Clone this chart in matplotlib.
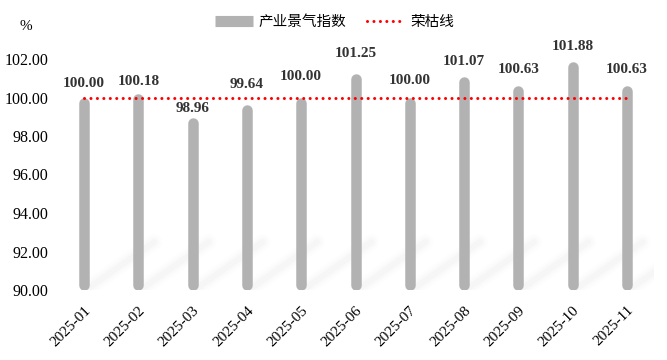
import matplotlib
matplotlib.use("Agg")
import matplotlib.pyplot as plt
from matplotlib.lines import Line2D
import numpy as np

months = ["2025-01", "2025-02", "2025-03", "2025-04", "2025-05", "2025-06",
          "2025-07", "2025-08", "2025-09", "2025-10", "2025-11"]
index_values = [100.00, 100.18, 98.96, 99.64, 100.00, 101.25,
                100.00, 101.07, 100.63, 101.88, 100.63]
boom_line = 100.0
yticks = [90, 92, 94, 96, 98, 100, 102]

# visual gap (px) between bar top and its value label, as in the original
label_gap_px = [10.5, 9, 6, 16, 17.5, 16, 13.5, 12, 12, 11, 12]

W, H = 667, 360
fig = plt.figure(figsize=(W / 100, H / 100), dpi=100)
ax = fig.add_axes([57 / W, 1 - 290 / H, (654 - 57) / W, (290 - 59) / H])
x = np.arange(len(months))
ax.set_xlim(-0.5, len(months) - 0.5)
ax.set_ylim(90, 102)

serif = "Liberation Serif"
cjk = ["Noto Sans CJK SC", "DejaVu Sans"]
bar_color = "#b2b2b2"
bar_px = 10.5
lw_pt = bar_px * 72 / 100

# pixel -> data conversion for cap radius
fig.canvas.draw()
p0 = ax.transData.transform((0, 90))
p1 = ax.transData.transform((0, 102))
unit_px = (p1[1] - p0[1]) / 12
r = (bar_px / 2) / unit_px
xunit_px = ax.transData.transform((1, 90))[0] - p0[0]

# faint diagonal shadows
for xi in x:
    for lw, a in [(16, 0.018), (11, 0.025), (6, 0.035)]:
        sx0 = xi + 6 / xunit_px
        sy0 = 90 + 3 / unit_px
        sx1 = xi + 70 / xunit_px
        sy1 = 90 + 48 / unit_px
        ax.plot([sx0, sx1], [sy0, sy1], color="#9a9a9a", lw=lw * 0.72, alpha=a,
                solid_capstyle="round", zorder=1)

# bars as rounded thick lines
for xi, v, g in zip(x, index_values, label_gap_px):
    ax.add_line(Line2D([xi, xi], [90 + r, v - r], color=bar_color, lw=lw_pt,
                       solid_capstyle="round", zorder=2))
    ax.annotate(f"{v:.2f}", (xi, v), xytext=(0, g * 0.72), textcoords="offset points",
                ha="center", va="baseline", fontsize=11, fontweight="bold",
                family=serif, color="#333333", zorder=4)

# boom line
ax.plot([x[0], x[-1]], [boom_line, boom_line], color="#ff0000", lw=2.2,
        linestyle=(0, (0.01, 2.1)), dash_capstyle="round", zorder=3)

ax.set_xticks(x)
ax.set_xticklabels(months, rotation=45, ha="right", rotation_mode="anchor",
                   family=serif, fontsize=11)
ax.set_yticks(yticks)
ax.set_yticklabels([f"{t:.2f}" for t in yticks], family=serif, fontsize=11.5)
ax.tick_params(length=0, pad=6)
ax.tick_params(axis="x", pad=10)
for s in ax.spines.values():
    s.set_visible(False)

fig.text(20 / W, 1 - 27 / H, "%", family=serif, fontsize=11, ha="left", va="center")

handles = [Line2D([], [], color=bar_color, lw=8, solid_capstyle="butt"),
           Line2D([], [], color="#ff0000", lw=2.2, linestyle=(0, (0.01, 2.1)),
                  dash_capstyle="round")]
fig.legend(handles, ["产业景气指数", "荣枯线"], loc="center",
           bbox_to_anchor=(335 / W, 1 - 22 / H), ncol=2, frameon=False,
           prop={"family": cjk, "size": 10.5}, handlelength=2.6, columnspacing=1.4,
           handletextpad=0.4)

fig.savefig("out.png", dpi=100)
